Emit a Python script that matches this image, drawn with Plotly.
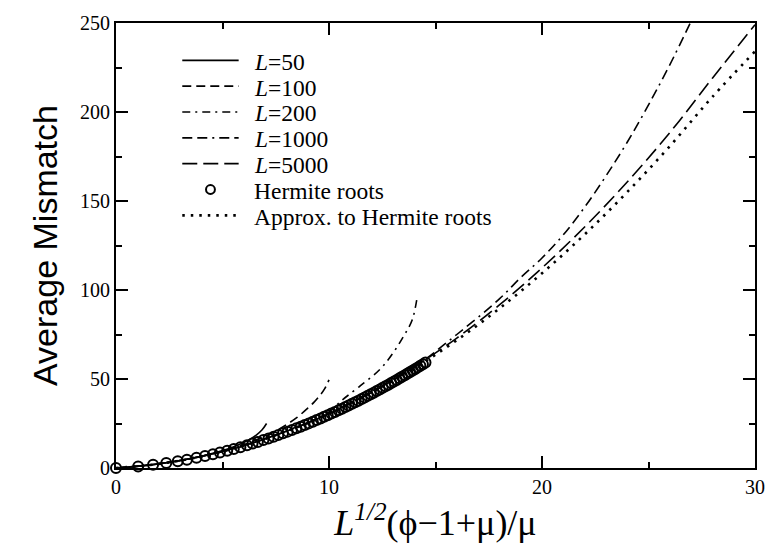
import plotly.graph_objects as go

# ---- data -------------------------------------------------------------
# Hermite-root points (scaled variable, average mismatch)
herm_x = [0, 1.04, 1.74, 2.36, 2.90, 3.33, 3.78, 4.18, 4.55, 4.88, 5.22, 5.53,
          5.84, 6.15, 6.41, 6.66, 6.92, 7.16, 7.40, 7.62, 7.84, 8.06, 8.26,
          8.47, 8.67, 8.86, 9.05, 9.24, 9.42, 9.60, 9.77, 9.94, 10.11, 10.28,
          10.45, 10.61, 10.77, 10.92, 11.08, 11.23, 11.38, 11.53, 11.67,
          11.82, 11.96, 12.10, 12.24, 12.38, 12.52, 12.65, 12.79, 12.92,
          13.05, 13.18, 13.31, 13.43, 13.56, 13.69, 13.81, 13.93, 14.05,
          14.17, 14.29, 14.41, 14.53]
herm_y = [0, 0.90, 1.79, 2.78, 3.79, 4.69, 5.73, 6.74, 7.74, 8.68, 9.71, 10.69,
          11.72, 12.79, 13.73, 14.67, 15.67, 16.63, 17.59, 18.53, 19.47, 20.43,
          21.34, 22.30, 23.23, 24.15, 25.07, 26.00, 26.93, 27.85, 28.75, 29.65,
          30.57, 31.49, 32.44, 33.34, 34.26, 35.12, 36.06, 36.94, 37.84, 38.75,
          39.61, 40.54, 41.42, 42.32, 43.21, 44.12, 45.03, 45.90, 46.82, 47.70,
          48.58, 49.47, 50.37, 51.22, 52.13, 53.06, 53.91, 54.77, 55.65, 56.53,
          57.42, 58.31, 59.21]

# Approximation to the Hermite-root curve
approx_x = [0, 2, 4, 6, 8, 10, 12, 14, 16, 18, 20, 22, 24, 26, 28, 30]
approx_y = [0, 2.3, 6.5, 12.6, 20.6, 30.4, 42.2, 56.0, 71.8, 89.6, 109.4,
            131.2, 155.0, 180.8, 208.5, 234.0]

# Finite-size curves
l50_x = [0, 1, 2, 3, 4, 4.5, 5, 5.5, 6, 6.3, 6.6, 6.85, 7.07]
l50_y = [0, 0.9, 2.3, 4.2, 6.6, 8.1, 9.8, 11.8, 14.3, 16.2, 18.6, 21.3, 25.0]

l100_x = [0, 2, 4, 5, 6, 7, 7.5, 8, 8.5, 9, 9.3, 9.6, 9.8, 10]
l100_y = [0, 2.3, 6.5, 9.4, 13.1, 17.8, 20.8, 24.3, 28.4, 33.6, 37.0, 41.2,
          44.6, 49.5]

l200_x = [0, 2, 4, 6, 8, 9, 10, 10.6, 11.4, 12.4, 13.0, 13.5, 13.9, 14.14]
l200_y = [0, 2.3, 6.5, 12.4, 20.8, 25.6, 31.5, 38.0, 45.5, 55.5, 64.5, 74.0,
          83.0, 96.0]

l1000_x = [0, 2, 4, 6, 8, 10, 12, 14, 16, 18, 19, 20, 21, 22, 23, 24, 25, 26, 27]
l1000_y = [0, 2.3, 6.5, 12.6, 20.6, 30.5, 42.4, 56.6, 75.0, 95.0, 107.0, 118.0,
           131.0, 146.5, 164.0, 183.0, 204.0, 226.5, 251.0]

l5000_x = [0, 2, 4, 6, 8, 10, 12, 14, 16, 18, 20, 22, 24, 26, 28, 30]
l5000_y = [0, 2.3, 6.5, 12.6, 20.7, 30.6, 42.6, 56.8, 73.0, 91.6, 112.4,
           135.4, 160.7, 188.4, 219.0, 249.0]

legend_labels = ["<i>L</i>=50", "<i>L</i>=100", "<i>L</i>=200", "<i>L</i>=1000",
                 "<i>L</i>=5000", "Hermite roots", "Approx. to Hermite roots"]

# ---- styles -----------------------------------------------------------
SERIF = "Liberation Serif, Times New Roman, serif"
SANS = "Liberation Sans, Arial, sans-serif"
LW = 1.6
dashes = ["solid", "9px,5px", "8px,5px,2px,5px", "10px,5px,10px,5px,2px,5px",
          "15px,6px"]
approx_dash = "2.5px,6px"

fig = go.Figure()

curves = [(l50_x, l50_y), (l100_x, l100_y), (l200_x, l200_y),
          (l1000_x, l1000_y), (l5000_x, l5000_y)]
for (cx, cy), d in zip(curves, dashes):
    fig.add_trace(go.Scatter(x=cx, y=cy, mode="lines", line_shape="spline",
                             line=dict(color="black", width=LW, dash=d),
                             showlegend=False, hoverinfo="skip"))

fig.add_trace(go.Scatter(x=approx_x, y=approx_y, mode="lines", line_shape="spline",
                         line=dict(color="black", width=2.6, dash=approx_dash),
                         showlegend=False, hoverinfo="skip"))

fig.add_trace(go.Scatter(x=herm_x, y=herm_y, mode="markers", cliponaxis=False,
                         marker=dict(symbol="circle-open", size=10,
                                     color="black", line=dict(width=2)),
                         showlegend=False, hoverinfo="skip"))

# ---- legend (drawn in paper space) ------------------------------------
W, H = 777, 552
ML, MR, MT, MB = 116, 15, 15, 84
pw, ph = W - ML - MR, H - MT - MB


def px(xp):
    return (xp - ML) / pw


def py(yp):
    return 1 - (yp - MT) / ph


rows = [53, 79.3, 105.6, 131.9, 158.2, 184.5, 210.8]
x0, x1, xt = 183, 240, 255
shapes = []
annotations = []
for i, lab in enumerate(legend_labels):
    yy = py(rows[i])
    if i < 5:
        shapes.append(dict(type="line", xref="paper", yref="paper",
                           x0=px(x0), x1=px(x1), y0=yy, y1=yy,
                           line=dict(color="black", width=LW, dash=dashes[i])))
    elif i == 5:
        r = 4.5
        cx = (x0 + x1) / 2
        shapes.append(dict(type="circle", xref="paper", yref="paper",
                           x0=px(cx - r), x1=px(cx + r),
                           y0=py(rows[i] + r), y1=py(rows[i] - r),
                           line=dict(color="black", width=2)))
    else:
        shapes.append(dict(type="line", xref="paper", yref="paper",
                           x0=px(x0), x1=px(x1), y0=yy, y1=yy,
                           line=dict(color="black", width=2.6, dash=approx_dash)))
    annotations.append(dict(text=lab, xref="paper", yref="paper", x=px(xt),
                            y=py(rows[i] + 1.5), borderpad=0,
                            xanchor="left", yanchor="middle", showarrow=False,
                            font=dict(family=SERIF, size=23.5, color="black")))

fig.update_layout(
    width=W, height=H,
    margin=dict(l=ML, r=MR, t=MT, b=MB),
    paper_bgcolor="white", plot_bgcolor="white",
    shapes=shapes, annotations=annotations,
    showlegend=False,
)

axis_common = dict(
    showgrid=False, zeroline=False, showline=True, linewidth=2, linecolor="black",
    mirror="allticks", ticks="inside", ticklen=12, tickwidth=1.5, tickcolor="black",
    tickfont=dict(family=SERIF, size=20, color="black"),
)

fig.update_xaxes(range=[0, 30], tick0=0, dtick=10,
                 minor=dict(dtick=5, ticks="inside", ticklen=6, tickwidth=1.5,
                            tickcolor="black", showgrid=False),
                 title=dict(text="<i>L</i><sup><i>1/2</i></sup>(\u03d5\u22121+\u03bc)/\u03bc",
                            font=dict(family=SERIF, size=36, color="black"),
                            standoff=6),
                 **axis_common)
fig.update_yaxes(range=[0, 250], tick0=0, dtick=50,
                 minor=dict(dtick=25, ticks="inside", ticklen=6, tickwidth=1.5,
                            tickcolor="black", showgrid=False),
                 title=dict(text="Average Mismatch",
                            font=dict(family=SANS, size=34, color="black"),
                            standoff=12),
                 **axis_common)

fig.write_html("out.html")
